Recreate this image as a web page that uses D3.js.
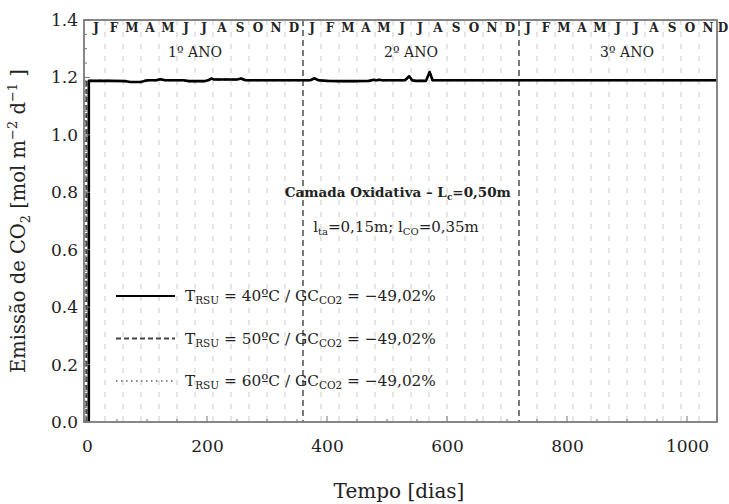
<!DOCTYPE html>
<html>
<head>
<meta charset="utf-8">
<script src="https://cdn.jsdelivr.net/npm/d3@7"></script>
<style>
  body { margin: 0; background: #fff; }
  svg { display: block; font-family: "DejaVu Serif", serif; }
</style>
</head>
<body>
<svg id="chart" width="729" height="504"></svg>
<script>
// Daily CO2 emission profile of the oxidative layer (mol m-2 d-1)
const profileDays = [10, 40, 65, 72, 90, 96, 102, 115, 122, 130, 160, 170, 195, 202, 207, 212, 222, 250, 257, 264, 275, 330, 360, 372, 379, 386, 400, 420, 445, 470, 478, 482, 487, 492, 497, 502, 530, 537, 542, 548, 565, 571, 576, 590, 650, 720, 800, 900, 1000, 1050];
const profileValues = [1.188, 1.188, 1.187, 1.184, 1.184, 1.188, 1.190, 1.190, 1.194, 1.190, 1.190, 1.187, 1.187, 1.190, 1.196, 1.193, 1.193, 1.193, 1.196, 1.190, 1.190, 1.190, 1.190, 1.190, 1.197, 1.190, 1.188, 1.187, 1.187, 1.188, 1.192, 1.190, 1.192, 1.190, 1.190, 1.190, 1.190, 1.204, 1.190, 1.188, 1.188, 1.219, 1.190, 1.190, 1.190, 1.190, 1.190, 1.190, 1.190, 1.190];

// Start-up day of each series (rise from zero)
const seriesNames = ["40", "50", "60"];
const seriesStart = [3, -1, -2];
const seriesGC = ["−49,02%", "−49,02%", "−49,02%"];

const monthLetters = ["J","F","M","A","M","J","J","A","S","O","N","D"];
const yearLabels = ["1º ANO", "2º ANO", "3º ANO"];
const yTicks = [0, 0.2, 0.4, 0.6, 0.8, 1.0, 1.2, 1.4];
const xTicks = [0, 200, 400, 600, 800, 1000];

const svg = d3.select("#chart");
const W = 729, H = 504;
const m = { left: 84, right: 12, top: 20, bottom: 82 };

const x = d3.scaleLinear().domain([-5, 1050]).range([m.left, W - m.right]);
const y = d3.scaleLinear().domain([0, 1.4]).range([H - m.bottom, m.top]);

const plotW = W - m.right - m.left, plotH = H - m.bottom - m.top;

svg.append("defs").append("clipPath").attr("id", "clip")
  .append("rect").attr("x", m.left).attr("y", m.top).attr("width", plotW).attr("height", plotH);

// monthly grid (30-day months)
const monthEdges = d3.range(30, 1050, 30).filter(d => d % 360 !== 0);
svg.append("g").selectAll("line").data(monthEdges).join("line")
  .attr("x1", d => x(d)).attr("x2", d => x(d))
  .attr("y1", m.top).attr("y2", H - m.bottom)
  .attr("stroke", "#d4d4d4").attr("stroke-width", 1.2)
  .attr("stroke-dasharray", "5,7");

// year separators
svg.append("g").selectAll("line").data([360, 720]).join("line")
  .attr("x1", d => x(d)).attr("x2", d => x(d))
  .attr("y1", m.top).attr("y2", H - m.bottom)
  .attr("stroke", "#333").attr("stroke-width", 1.3)
  .attr("stroke-dasharray", "6,4");

// month initials along the top
const months = d3.range(36).map(i => ({ day: 15 + 30 * i, label: monthLetters[i % 12] }));
svg.append("g").selectAll("text").data(months).join("text")
  .attr("x", d => Math.min(x(d.day), W - 6)).attr("y", m.top + 12)
  .attr("text-anchor", "middle").attr("font-size", 12).attr("font-weight", "bold")
  .attr("fill", "#222").text(d => d.label);

svg.append("g").selectAll("text").data(yearLabels).join("text")
  .attr("x", (d, i) => x(180 + 360 * i)).attr("y", m.top + 37)
  .attr("text-anchor", "middle").attr("font-size", 14).attr("fill", "#222")
  .text(d => d);

// series
const line = d3.line().x(d => x(d[0])).y(d => y(d[1]));
const styles = [
  { color: "#000", width: 2.6, dash: null },
  { color: "#444", width: 2.0, dash: "5,3" },
  { color: "#888", width: 2.0, dash: "1.5,3.5" }
];
const seriesData = seriesStart.map(s => [[s, 0], [s, profileValues[0]]]
  .concat(profileDays.map((d, i) => [d, profileValues[i]])));

const gLines = svg.append("g").attr("clip-path", "url(#clip)");
[2, 1, 0].forEach(k => {
  gLines.append("path").datum(seriesData[k])
    .attr("d", line).attr("fill", "none")
    .attr("stroke", styles[k].color).attr("stroke-width", styles[k].width)
    .attr("stroke-dasharray", styles[k].dash)
    .attr("stroke-linejoin", "round");
});

// frame
svg.append("rect").attr("x", m.left).attr("y", m.top).attr("width", plotW).attr("height", plotH)
  .attr("fill", "none").attr("stroke", "#7a7a7a").attr("stroke-width", 1.8);

// axes
const yAxis = d3.axisLeft(y).tickValues(yTicks).tickFormat(d3.format(".1f")).tickSize(0).tickPadding(6);
svg.append("g").attr("transform", `translate(${m.left},0)`).call(yAxis)
  .call(g => g.select(".domain").remove())
  .call(g => g.selectAll("text").attr("font-size", 17).attr("font-family", "DejaVu Serif").attr("fill", "#222"));

const xAxis = d3.axisBottom(x).tickValues(xTicks).tickFormat(d3.format("d")).tickSize(0).tickPadding(18);
svg.append("g").attr("transform", `translate(0,${H - m.bottom})`).call(xAxis)
  .call(g => g.select(".domain").remove())
  .call(g => g.selectAll("text").attr("font-size", 17).attr("font-family", "DejaVu Serif").attr("fill", "#222"));

// inward ticks
svg.append("g").selectAll("line").data(d3.range(0, 1.4001, 0.05)).join("line")
  .attr("x1", m.left).attr("x2", (d) => m.left + (Math.abs(d * 5 - Math.round(d * 5)) < 1e-6 ? 6 : 3))
  .attr("y1", d => y(d)).attr("y2", d => y(d)).attr("stroke", "#777");
svg.append("g").selectAll("line").data(d3.range(0, 1051, 50)).join("line")
  .attr("y1", H - m.bottom).attr("y2", d => H - m.bottom - (d % 200 === 0 ? 6 : 3))
  .attr("x1", d => x(d)).attr("x2", d => x(d)).attr("stroke", "#777");

// axis titles
svg.append("text").attr("x", x(520)).attr("y", 498).attr("text-anchor", "middle")
  .attr("font-size", 20).attr("fill", "#222").text("Tempo [dias]");

const yl = svg.append("text").attr("transform", `translate(25,${(m.top + H - m.bottom) / 2}) rotate(-90)`)
  .attr("text-anchor", "middle").attr("font-size", 19.5).attr("fill", "#222");
yl.append("tspan").text("Emissão de CO");
yl.append("tspan").attr("font-size", 13).attr("dy", 5).text("2");
yl.append("tspan").attr("dy", -5).text(" [mol m");
yl.append("tspan").attr("font-size", 13).attr("dy", -8).text("−2");
yl.append("tspan").attr("dy", 8).text(" d");
yl.append("tspan").attr("font-size", 13).attr("dy", -8).text("−1");
yl.append("tspan").attr("dy", 8).text(" ]");

// annotations
const a1 = svg.append("text").attr("x", x(518)).attr("y", 197).attr("text-anchor", "middle")
  .attr("font-size", 13.5).attr("font-weight", "bold").attr("fill", "#222");
a1.append("tspan").text("Camada Oxidativa – L");
a1.append("tspan").attr("font-size", 9).attr("dy", 3).text("c");
a1.append("tspan").attr("dy", -3).text("=0,50m");

const a2 = svg.append("text").attr("x", x(515)).attr("y", 232).attr("text-anchor", "middle")
  .attr("font-size", 15).attr("fill", "#222");
a2.append("tspan").text("l");
a2.append("tspan").attr("font-size", 10).attr("dy", 3).text("ta");
a2.append("tspan").attr("dy", -3).text("=0,15m; l");
a2.append("tspan").attr("font-size", 10).attr("dy", 3).text("CO");
a2.append("tspan").attr("dy", -3).text("=0,35m");

// legend
const legend = svg.append("g");
seriesNames.forEach((n, i) => {
  const ly = 296 + 42.5 * i;
  legend.append("line").attr("x1", 116).attr("x2", 175).attr("y1", ly).attr("y2", ly)
    .attr("stroke", styles[i].color).attr("stroke-width", i === 0 ? 2.2 : 1.8)
    .attr("stroke-dasharray", styles[i].dash);
  const t = legend.append("text").attr("x", 185).attr("y", ly + 5)
    .attr("font-size", 15.3).attr("fill", "#222");
  t.append("tspan").text("T");
  t.append("tspan").attr("font-size", 10.5).attr("dy", 3).text("RSU");
  t.append("tspan").attr("dy", -3).text(` = ${n}ºC / GC`);
  t.append("tspan").attr("font-size", 10.5).attr("dy", 3).text("CO2");
  t.append("tspan").attr("dy", -3).text(` = ${seriesGC[i]}`);
});
</script>
</body>
</html>
